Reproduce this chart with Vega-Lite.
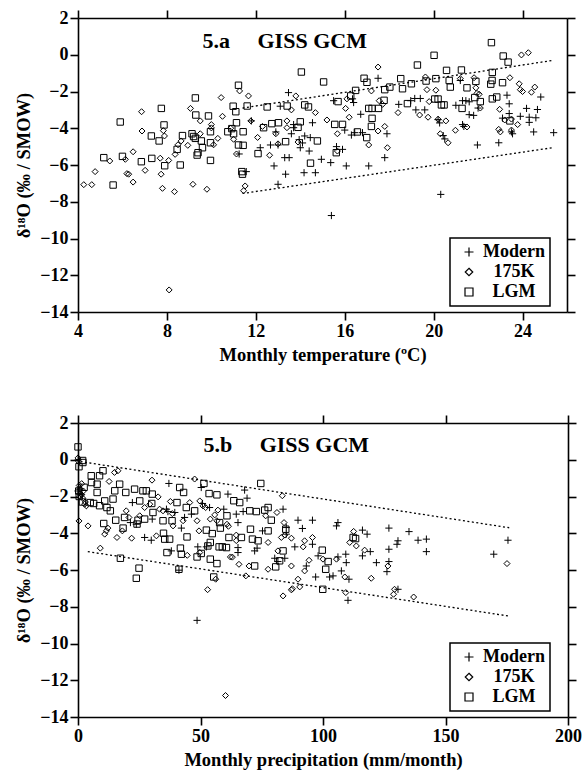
{
  "$schema": "https://vega.github.io/schema/vega-lite/v6.json",
  "background": "white",
  "padding": {"left": 14, "top": 9, "right": 5, "bottom": 3},
  "spacing": 50,
  "config": {
    "view": {"stroke": null},
    "font": "Liberation Serif",
    "axis": {"labelFont": "Liberation Serif", "labelFontWeight": "bold", "labelFontSize": 18, "labelColor": "black", "titleFont": "Liberation Serif", "titleFontWeight": "bold", "titleFontSize": 18.5, "titleColor": "black", "domainColor": "black", "domainWidth": 1.6, "tickColor": "black", "tickWidth": 1.6, "tickSize": 8, "grid": false, "labelPadding": 2, "labelFlush": false, "labelOverlap": false},
    "axisX": {"titlePadding": 5},
    "legend": {"orient": "none", "legendX": 372, "legendY": 220, "strokeColor": "black", "strokeWidth": 1.5, "fillColor": "white", "padding": 5, "labelFont": "Liberation Serif", "labelFontSize": 18, "labelFontWeight": "bold", "labelColor": "black", "labelAlign": "center", "labelOffset": 36, "symbolOffset": 5, "symbolSize": 100, "symbolStrokeColor": "black", "symbolStrokeWidth": 1.2, "symbolFillColor": "transparent", "rowPadding": 2, "title": null}
  },
  "datasets": {
    "temp": [
      {"series":"LGM","temp":5.58,"d18O":-7.09},{"series":"LGM","temp":5.16,"d18O":-5.6},{"series":"LGM","temp":5.9,"d18O":-3.66},{"series":"LGM","temp":6.0,"d18O":-5.53},{"series":"LGM","temp":6.85,"d18O":-5.82},{"series":"LGM","temp":7.3,"d18O":-4.42},{"series":"LGM","temp":7.32,"d18O":-5.64},{"series":"LGM","temp":7.65,"d18O":-4.69},{"series":"LGM","temp":7.75,"d18O":-2.92},{"series":"LGM","temp":7.87,"d18O":-3.82},{"series":"LGM","temp":7.9,"d18O":-6.04},{"series":"LGM","temp":8.46,"d18O":-5.15},{"series":"LGM","temp":8.6,"d18O":-6.0},{"series":"LGM","temp":8.7,"d18O":-4.4},{"series":"LGM","temp":9.13,"d18O":-4.3},{"series":"LGM","temp":9.2,"d18O":-4.45},{"series":"LGM","temp":9.28,"d18O":-4.55},{"series":"LGM","temp":9.28,"d18O":-2.35},{"series":"LGM","temp":9.3,"d18O":-3.28},{"series":"LGM","temp":9.36,"d18O":-5.46},{"series":"LGM","temp":9.4,"d18O":-5.33},{"series":"LGM","temp":9.6,"d18O":-5.06},{"series":"LGM","temp":9.55,"d18O":-4.69},{"series":"LGM","temp":9.87,"d18O":-3.33},{"series":"LGM","temp":9.96,"d18O":-4.19},{"series":"LGM","temp":9.96,"d18O":-4.79},{"series":"LGM","temp":9.96,"d18O":-5.75},{"series":"LGM","temp":10.74,"d18O":-4.19},{"series":"LGM","temp":10.92,"d18O":-4.02},{"series":"LGM","temp":11.0,"d18O":-4.3},{"series":"LGM","temp":11.22,"d18O":-1.66},{"series":"LGM","temp":10.98,"d18O":-2.8},{"series":"LGM","temp":11.1,"d18O":-3.1},{"series":"LGM","temp":11.13,"d18O":-3.7},{"series":"LGM","temp":11.43,"d18O":-4.19},{"series":"LGM","temp":11.22,"d18O":-4.91},{"series":"LGM","temp":11.43,"d18O":-4.93},{"series":"LGM","temp":11.61,"d18O":-2.79},{"series":"LGM","temp":11.37,"d18O":-6.36},{"series":"LGM","temp":11.4,"d18O":-6.5},{"series":"LGM","temp":12.1,"d18O":-5.38},{"series":"LGM","temp":12.35,"d18O":-3.97},{"series":"LGM","temp":12.51,"d18O":-2.84},{"series":"LGM","temp":12.72,"d18O":-3.75},{"series":"LGM","temp":13.02,"d18O":-3.7},{"series":"LGM","temp":13.34,"d18O":-4.73},{"series":"LGM","temp":13.41,"d18O":-2.79},{"series":"LGM","temp":14.05,"d18O":-0.94},{"series":"LGM","temp":14.0,"d18O":-3.65},{"series":"LGM","temp":13.9,"d18O":-3.95},{"series":"LGM","temp":15.05,"d18O":-1.48},{"series":"LGM","temp":14.2,"d18O":-2.73},{"series":"LGM","temp":14.37,"d18O":-2.84},{"series":"LGM","temp":14.77,"d18O":-4.69},{"series":"LGM","temp":14.46,"d18O":-5.9},{"series":"LGM","temp":15.55,"d18O":-3.79},{"series":"LGM","temp":15.9,"d18O":-3.79},{"series":"LGM","temp":15.62,"d18O":-5.33},{"series":"LGM","temp":15.7,"d18O":-2.55},{"series":"LGM","temp":16.27,"d18O":-2.24},{"series":"LGM","temp":16.49,"d18O":-1.94},{"series":"LGM","temp":16.57,"d18O":-4.2},{"series":"LGM","temp":16.87,"d18O":-1.28},{"series":"LGM","temp":17.0,"d18O":-1.5},{"series":"LGM","temp":17.08,"d18O":-2.92},{"series":"LGM","temp":17.23,"d18O":-2.92},{"series":"LGM","temp":17.52,"d18O":-2.92},{"series":"LGM","temp":16.99,"d18O":-4.51},{"series":"LGM","temp":17.23,"d18O":-3.46},{"series":"LGM","temp":17.2,"d18O":-3.9},{"series":"LGM","temp":17.77,"d18O":-2.48},{"series":"LGM","temp":17.8,"d18O":-1.9},{"series":"LGM","temp":18.03,"d18O":-1.76},{"series":"LGM","temp":18.52,"d18O":-1.3},{"series":"LGM","temp":18.6,"d18O":-1.85},{"series":"LGM","temp":18.82,"d18O":-2.66},{"series":"LGM","temp":19.0,"d18O":-1.58},{"series":"LGM","temp":19.27,"d18O":-0.56},{"series":"LGM","temp":19.66,"d18O":-1.43},{"series":"LGM","temp":20.02,"d18O":-0.03},{"series":"LGM","temp":20.1,"d18O":-1.3},{"series":"LGM","temp":20.05,"d18O":-2.41},{"series":"LGM","temp":20.2,"d18O":-2.41},{"series":"LGM","temp":20.35,"d18O":-2.73},{"series":"LGM","temp":20.47,"d18O":-2.73},{"series":"LGM","temp":20.58,"d18O":-0.85},{"series":"LGM","temp":20.7,"d18O":-1.4},{"series":"LGM","temp":20.75,"d18O":-1.76},{"series":"LGM","temp":21.25,"d18O":-0.83},{"series":"LGM","temp":21.28,"d18O":-2.92},{"series":"LGM","temp":21.5,"d18O":-1.8},{"series":"LGM","temp":21.85,"d18O":-2.33},{"series":"LGM","temp":21.9,"d18O":-1.45},{"series":"LGM","temp":22.1,"d18O":-2.55},{"series":"LGM","temp":22.57,"d18O":-1.6},{"series":"LGM","temp":22.6,"d18O":0.66},{"series":"LGM","temp":22.64,"d18O":-0.96},{"series":"LGM","temp":22.63,"d18O":-1.4},{"series":"LGM","temp":23.1,"d18O":-1.52},{"series":"LGM","temp":22.64,"d18O":-2.4},{"series":"LGM","temp":22.84,"d18O":-2.3},{"series":"LGM","temp":23.13,"d18O":-0.07},{"series":"LGM","temp":23.35,"d18O":-0.4},{"series":"LGM","temp":23.43,"d18O":-3.6},
      {"series":"175K","temp":4.26,"d18O":-7.07},{"series":"175K","temp":4.62,"d18O":-7.07},{"series":"175K","temp":4.77,"d18O":-6.36},{"series":"175K","temp":5.43,"d18O":-5.78},{"series":"175K","temp":6.13,"d18O":-5.69},{"series":"175K","temp":6.2,"d18O":-6.47},{"series":"175K","temp":6.28,"d18O":-6.5},{"series":"175K","temp":6.48,"d18O":-6.93},{"series":"175K","temp":6.48,"d18O":-5.28},{"series":"175K","temp":6.86,"d18O":-3.1},{"series":"175K","temp":6.88,"d18O":-4.15},{"series":"175K","temp":7.02,"d18O":-6.29},{"series":"175K","temp":7.7,"d18O":-5.63},{"series":"175K","temp":7.74,"d18O":-6.5},{"series":"175K","temp":7.8,"d18O":-7.27},{"series":"175K","temp":7.84,"d18O":-4.13},{"series":"175K","temp":7.89,"d18O":-4.42},{"series":"175K","temp":8.08,"d18O":-5.75},{"series":"175K","temp":8.34,"d18O":-7.45},{"series":"175K","temp":8.37,"d18O":-5.42},{"series":"175K","temp":8.5,"d18O":-4.9},{"series":"175K","temp":8.64,"d18O":-4.69},{"series":"175K","temp":8.94,"d18O":-4.93},{"series":"175K","temp":9.06,"d18O":-2.92},{"series":"175K","temp":9.17,"d18O":-7.05},{"series":"175K","temp":9.5,"d18O":-3.6},{"series":"175K","temp":9.5,"d18O":-4.3},{"series":"175K","temp":9.8,"d18O":-7.32},{"series":"175K","temp":10.0,"d18O":-3.8},{"series":"175K","temp":10.0,"d18O":-3.98},{"series":"175K","temp":10.1,"d18O":-4.9},{"series":"175K","temp":10.29,"d18O":-4.55},{"series":"175K","temp":10.44,"d18O":-2.33},{"series":"175K","temp":10.5,"d18O":-3.35},{"series":"175K","temp":10.87,"d18O":-4.0},{"series":"175K","temp":11.0,"d18O":-4.6},{"series":"175K","temp":11.13,"d18O":-5.4},{"series":"175K","temp":11.27,"d18O":-1.97},{"series":"175K","temp":11.67,"d18O":-2.24},{"series":"175K","temp":11.52,"d18O":-7.14},{"series":"175K","temp":11.45,"d18O":-7.4},{"series":"175K","temp":11.78,"d18O":-3.6},{"series":"175K","temp":12.08,"d18O":-4.5},{"series":"175K","temp":12.3,"d18O":-3.9},{"series":"175K","temp":12.62,"d18O":-5.47},{"series":"175K","temp":12.9,"d18O":-4.3},{"series":"175K","temp":13.0,"d18O":-4.85},{"series":"175K","temp":13.4,"d18O":-3.6},{"series":"175K","temp":13.4,"d18O":-3.97},{"series":"175K","temp":13.6,"d18O":-3.0},{"series":"175K","temp":13.8,"d18O":-2.24},{"series":"175K","temp":13.9,"d18O":-4.75},{"series":"175K","temp":8.1,"d18O":-12.8},{"series":"175K","temp":14.68,"d18O":-3.15},{"series":"175K","temp":15.2,"d18O":-3.55},{"series":"175K","temp":15.67,"d18O":-4.3},{"series":"175K","temp":15.67,"d18O":-5.24},{"series":"175K","temp":16.04,"d18O":-2.92},{"series":"175K","temp":16.1,"d18O":-2.4},{"series":"175K","temp":16.2,"d18O":-3.4},{"series":"175K","temp":17.08,"d18O":-4.91},{"series":"175K","temp":17.2,"d18O":-1.97},{"series":"175K","temp":17.5,"d18O":-4.15},{"series":"175K","temp":17.5,"d18O":-0.67},{"series":"175K","temp":17.55,"d18O":-2.5},{"series":"175K","temp":17.7,"d18O":-2.7},{"series":"175K","temp":17.8,"d18O":-3.9},{"series":"175K","temp":17.92,"d18O":-5.06},{"series":"175K","temp":18.4,"d18O":-3.15},{"series":"175K","temp":19.37,"d18O":-3.28},{"series":"175K","temp":19.63,"d18O":-1.21},{"series":"175K","temp":19.7,"d18O":-1.9},{"series":"175K","temp":19.75,"d18O":-3.4},{"series":"175K","temp":19.8,"d18O":-2.55},{"series":"175K","temp":20.1,"d18O":-1.93},{"series":"175K","temp":20.2,"d18O":-3.51},{"series":"175K","temp":20.3,"d18O":-4.3},{"series":"175K","temp":20.55,"d18O":-3.6},{"series":"175K","temp":20.65,"d18O":-4.79},{"series":"175K","temp":20.98,"d18O":-4.11},{"series":"175K","temp":21.2,"d18O":-1.3},{"series":"175K","temp":21.5,"d18O":-3.93},{"series":"175K","temp":21.82,"d18O":-1.25},{"series":"175K","temp":21.9,"d18O":-1.8},{"series":"175K","temp":21.95,"d18O":-2.1},{"series":"175K","temp":22.05,"d18O":-2.15},{"series":"175K","temp":22.1,"d18O":-2.9},{"series":"175K","temp":22.93,"d18O":-4.06},{"series":"175K","temp":22.97,"d18O":-2.97},{"series":"175K","temp":23.0,"d18O":-4.2},{"series":"175K","temp":23.2,"d18O":-3.55},{"series":"175K","temp":23.43,"d18O":-1.25},{"series":"175K","temp":23.5,"d18O":-3.5},{"series":"175K","temp":23.5,"d18O":-4.1},{"series":"175K","temp":23.78,"d18O":-3.8},{"series":"175K","temp":23.85,"d18O":-1.58},{"series":"175K","temp":23.9,"d18O":-1.9},{"series":"175K","temp":24.0,"d18O":-2.0},{"series":"175K","temp":23.95,"d18O":-0.01},{"series":"175K","temp":24.26,"d18O":0.11},{"series":"175K","temp":24.4,"d18O":-2.04},{"series":"175K","temp":24.55,"d18O":-1.76},
      {"series":"Modern","temp":11.25,"d18O":-5.4},{"series":"Modern","temp":11.57,"d18O":-6.36},{"series":"Modern","temp":11.8,"d18O":-3.6},{"series":"Modern","temp":12.2,"d18O":-5.06},{"series":"Modern","temp":12.66,"d18O":-4.91},{"series":"Modern","temp":13.0,"d18O":-4.91},{"series":"Modern","temp":12.82,"d18O":-6.05},{"series":"Modern","temp":13.0,"d18O":-7.05},{"series":"Modern","temp":13.34,"d18O":-6.5},{"series":"Modern","temp":13.3,"d18O":-5.6},{"series":"Modern","temp":13.5,"d18O":-5.6},{"series":"Modern","temp":13.47,"d18O":-2.06},{"series":"Modern","temp":13.6,"d18O":-4.3},{"series":"Modern","temp":13.7,"d18O":-3.97},{"series":"Modern","temp":13.95,"d18O":-4.62},{"series":"Modern","temp":12.9,"d18O":-4.2},{"series":"Modern","temp":13.1,"d18O":-2.8},{"series":"Modern","temp":13.7,"d18O":-3.8},{"series":"Modern","temp":14.55,"d18O":-3.7},{"series":"Modern","temp":14.1,"d18O":-4.8},{"series":"Modern","temp":14.0,"d18O":-5.06},{"series":"Modern","temp":14.4,"d18O":-5.24},{"series":"Modern","temp":14.2,"d18O":-4.42},{"series":"Modern","temp":14.45,"d18O":-4.51},{"series":"Modern","temp":14.17,"d18O":-6.42},{"series":"Modern","temp":14.68,"d18O":-6.42},{"series":"Modern","temp":14.95,"d18O":-5.69},{"series":"Modern","temp":15.37,"d18O":-5.87},{"series":"Modern","temp":15.5,"d18O":-2.5},{"series":"Modern","temp":15.63,"d18O":-5.0},{"series":"Modern","temp":15.9,"d18O":-5.15},{"series":"Modern","temp":16.0,"d18O":-4.1},{"series":"Modern","temp":16.07,"d18O":-6.05},{"series":"Modern","temp":16.3,"d18O":-4.37},{"series":"Modern","temp":16.35,"d18O":-2.4},{"series":"Modern","temp":16.4,"d18O":-2.6},{"series":"Modern","temp":16.45,"d18O":-4.24},{"series":"Modern","temp":16.72,"d18O":-3.24},{"series":"Modern","temp":16.8,"d18O":-4.24},{"series":"Modern","temp":17.08,"d18O":-6.05},{"series":"Modern","temp":17.5,"d18O":-1.28},{"series":"Modern","temp":17.8,"d18O":-5.6},{"series":"Modern","temp":17.9,"d18O":-4.3},{"series":"Modern","temp":18.43,"d18O":-2.7},{"series":"Modern","temp":18.97,"d18O":-2.5},{"series":"Modern","temp":19.15,"d18O":-2.38},{"series":"Modern","temp":19.4,"d18O":-2.38},{"series":"Modern","temp":19.2,"d18O":-3.0},{"series":"Modern","temp":19.6,"d18O":-3.0},{"series":"Modern","temp":20.2,"d18O":-3.53},{"series":"Modern","temp":20.27,"d18O":-3.71},{"series":"Modern","temp":20.43,"d18O":-4.4},{"series":"Modern","temp":20.5,"d18O":-4.58},{"series":"Modern","temp":20.32,"d18O":-7.6},{"series":"Modern","temp":21.0,"d18O":-2.75},{"series":"Modern","temp":21.2,"d18O":-1.4},{"series":"Modern","temp":21.3,"d18O":-2.5},{"series":"Modern","temp":21.45,"d18O":-2.5},{"series":"Modern","temp":21.6,"d18O":-2.56},{"series":"Modern","temp":21.6,"d18O":-3.26},{"series":"Modern","temp":21.8,"d18O":-3.3},{"series":"Modern","temp":21.3,"d18O":-3.8},{"series":"Modern","temp":21.36,"d18O":-3.9},{"series":"Modern","temp":21.97,"d18O":-4.91},{"series":"Modern","temp":22.0,"d18O":-2.9},{"series":"Modern","temp":22.93,"d18O":-4.79},{"series":"Modern","temp":23.1,"d18O":-3.45},{"series":"Modern","temp":23.3,"d18O":-2.2},{"series":"Modern","temp":23.4,"d18O":-2.67},{"series":"Modern","temp":23.4,"d18O":-3.2},{"series":"Modern","temp":23.5,"d18O":-4.2},{"series":"Modern","temp":23.55,"d18O":-4.3},{"series":"Modern","temp":23.9,"d18O":-3.35},{"series":"Modern","temp":24.18,"d18O":-2.92},{"series":"Modern","temp":24.3,"d18O":-3.4},{"series":"Modern","temp":24.3,"d18O":-3.68},{"series":"Modern","temp":24.5,"d18O":-4.2},{"series":"Modern","temp":24.67,"d18O":-2.98},{"series":"Modern","temp":24.6,"d18O":-3.43},{"series":"Modern","temp":24.82,"d18O":-2.3},{"series":"Modern","temp":25.4,"d18O":-4.24},{"series":"Modern","temp":15.4,"d18O":-8.75}
    ],
    "precip": [
      {"series":"LGM","precip":0,"d18O":0.7},{"series":"LGM","precip":0.4,"d18O":-0.38},{"series":"LGM","precip":1.9,"d18O":-0.04},{"series":"LGM","precip":2.0,"d18O":-0.15},{"series":"LGM","precip":5.4,"d18O":-0.87},{"series":"LGM","precip":5.5,"d18O":-1.24},{"series":"LGM","precip":7.8,"d18O":-1.33},{"series":"LGM","precip":8.8,"d18O":-0.87},{"series":"LGM","precip":10.2,"d18O":-0.6},{"series":"LGM","precip":7.8,"d18O":-1.78},{"series":"LGM","precip":10.9,"d18O":-2.24},{"series":"LGM","precip":14.3,"d18O":-2.14},{"series":"LGM","precip":15.0,"d18O":-1.69},{"series":"LGM","precip":17.0,"d18O":-1.33},{"series":"LGM","precip":6.4,"d18O":-2.38},{"series":"LGM","precip":5.0,"d18O":-2.33},{"series":"LGM","precip":8.8,"d18O":-2.5},{"series":"LGM","precip":10.5,"d18O":-3.47},{"series":"LGM","precip":11.8,"d18O":-2.6},{"series":"LGM","precip":13.2,"d18O":-2.78},{"series":"LGM","precip":15.4,"d18O":-3.29},{"series":"LGM","precip":19.0,"d18O":-3.14},{"series":"LGM","precip":18.4,"d18O":-3.72},{"series":"LGM","precip":19.5,"d18O":-1.78},{"series":"LGM","precip":23.1,"d18O":-1.6},{"series":"LGM","precip":25.2,"d18O":-2.24},{"series":"LGM","precip":24.5,"d18O":-3.29},{"series":"LGM","precip":24.1,"d18O":-3.5},{"series":"LGM","precip":24.9,"d18O":-5.9},{"series":"LGM","precip":23.8,"d18O":-6.45},{"series":"LGM","precip":26.5,"d18O":-1.69},{"series":"LGM","precip":27.9,"d18O":-1.69},{"series":"LGM","precip":27.2,"d18O":-3.23},{"series":"LGM","precip":30.3,"d18O":-1.87},{"series":"LGM","precip":30.1,"d18O":-2.38},{"series":"LGM","precip":30.6,"d18O":-2.87},{"series":"LGM","precip":17.3,"d18O":-5.36},{"series":"LGM","precip":34.9,"d18O":-4.0},{"series":"LGM","precip":35.4,"d18O":-4.32},{"series":"LGM","precip":37.4,"d18O":-4.32},{"series":"LGM","precip":36.3,"d18O":-5.05},{"series":"LGM","precip":34.7,"d18O":-3.32},{"series":"LGM","precip":38.4,"d18O":-3.32},{"series":"LGM","precip":41.5,"d18O":-1.51},{"series":"LGM","precip":43.1,"d18O":-1.78},{"series":"LGM","precip":40.4,"d18O":-2.33},{"series":"LGM","precip":41.8,"d18O":-4.81},{"series":"LGM","precip":42.2,"d18O":-5.14},{"series":"LGM","precip":41.2,"d18O":-5.96},{"series":"LGM","precip":44.5,"d18O":-4.2},{"series":"LGM","precip":44.2,"d18O":-2.6},{"series":"LGM","precip":47.6,"d18O":-2.78},{"series":"LGM","precip":48.6,"d18O":-5.29},{"series":"LGM","precip":50.3,"d18O":-5.1},{"series":"LGM","precip":51.4,"d18O":-1.29},{"series":"LGM","precip":53.5,"d18O":-1.84},{"series":"LGM","precip":56.7,"d18O":-1.91},{"series":"LGM","precip":52.4,"d18O":-3.83},{"series":"LGM","precip":53.0,"d18O":-4.69},{"series":"LGM","precip":54.0,"d18O":-4.5},{"series":"LGM","precip":54.8,"d18O":-4.02},{"series":"LGM","precip":54.0,"d18O":-5.41},{"series":"LGM","precip":56.7,"d18O":-5.65},{"series":"LGM","precip":55.4,"d18O":-6.38},{"series":"LGM","precip":57.6,"d18O":-4.74},{"series":"LGM","precip":58.9,"d18O":-4.74},{"series":"LGM","precip":60.6,"d18O":-4.78},{"series":"LGM","precip":61.6,"d18O":-4.23},{"series":"LGM","precip":58.1,"d18O":-3.72},{"series":"LGM","precip":57.8,"d18O":-3.42},{"series":"LGM","precip":60.8,"d18O":-3.05},{"series":"LGM","precip":0.3,"d18O":-1.7},{"series":"LGM","precip":0.5,"d18O":-2.0},{"series":"LGM","precip":2.5,"d18O":-1.5},{"series":"LGM","precip":1.8,"d18O":-2.3},{"series":"LGM","precip":74.6,"d18O":-1.29},{"series":"LGM","precip":63.6,"d18O":-2.23},{"series":"LGM","precip":66.0,"d18O":-2.33},{"series":"LGM","precip":70.1,"d18O":-2.78},{"series":"LGM","precip":72.8,"d18O":-2.82},{"series":"LGM","precip":76.2,"d18O":-2.74},{"series":"LGM","precip":77.6,"d18O":-2.6},{"series":"LGM","precip":78.9,"d18O":-3.29},{"series":"LGM","precip":70.4,"d18O":-3.78},{"series":"LGM","precip":66.7,"d18O":-4.23},{"series":"LGM","precip":71.2,"d18O":-4.32},{"series":"LGM","precip":73.5,"d18O":-4.41},{"series":"LGM","precip":77.6,"d18O":-3.87},{"series":"LGM","precip":83.7,"d18O":-4.96},{"series":"LGM","precip":84.8,"d18O":-3.78},{"series":"LGM","precip":82.3,"d18O":-5.5},{"series":"LGM","precip":80.7,"d18O":-5.83},{"series":"LGM","precip":72.1,"d18O":-5.78},{"series":"LGM","precip":99.7,"d18O":-4.92},{"series":"LGM","precip":102.1,"d18O":-5.54},{"series":"LGM","precip":101.1,"d18O":-5.96},{"series":"LGM","precip":99.9,"d18O":-7.05},{"series":"LGM","precip":112.3,"d18O":-4.23},{"series":"LGM","precip":113.3,"d18O":-4.29},
      {"series":"175K","precip":0,"d18O":0.1},{"series":"175K","precip":0.3,"d18O":-0.1},{"series":"175K","precip":0.5,"d18O":-1.4},{"series":"175K","precip":1.0,"d18O":-1.6},{"series":"175K","precip":1.5,"d18O":-1.9},{"series":"175K","precip":2.0,"d18O":-2.1},{"series":"175K","precip":0.8,"d18O":-2.0},{"series":"175K","precip":3.0,"d18O":-2.3},{"series":"175K","precip":1.5,"d18O":-1.3},{"series":"175K","precip":2.2,"d18O":-1.7},{"series":"175K","precip":0.4,"d18O":-3.33},{"series":"175K","precip":4.1,"d18O":-3.6},{"series":"175K","precip":3.4,"d18O":-2.51},{"series":"175K","precip":2.7,"d18O":-2.42},{"series":"175K","precip":9.1,"d18O":-4.81},{"series":"175K","precip":10.9,"d18O":-4.05},{"series":"175K","precip":11.6,"d18O":-3.87},{"series":"175K","precip":12.2,"d18O":-3.72},{"series":"175K","precip":15.9,"d18O":-4.23},{"series":"175K","precip":12.7,"d18O":-1.18},{"series":"175K","precip":14.9,"d18O":-0.69},{"series":"175K","precip":16.3,"d18O":-0.6},{"series":"175K","precip":21.9,"d18O":-4.27},{"series":"175K","precip":18.1,"d18O":-3.87},{"series":"175K","precip":20.8,"d18O":-3.14},{"series":"175K","precip":19.7,"d18O":-2.78},{"series":"175K","precip":25.2,"d18O":-3.05},{"series":"175K","precip":27.2,"d18O":-2.6},{"series":"175K","precip":29.3,"d18O":-2.42},{"series":"175K","precip":30.2,"d18O":-1.11},{"series":"175K","precip":32.0,"d18O":-4.14},{"series":"175K","precip":32.7,"d18O":-2.02},{"series":"175K","precip":33.3,"d18O":-2.69},{"series":"175K","precip":34.7,"d18O":-2.78},{"series":"175K","precip":38.8,"d18O":-3.6},{"series":"175K","precip":37.7,"d18O":-2.27},{"series":"175K","precip":38.5,"d18O":-2.93},{"series":"175K","precip":42.9,"d18O":-3.32},{"series":"175K","precip":44.6,"d18O":-5.2},{"series":"175K","precip":45.6,"d18O":-2.33},{"series":"175K","precip":49.7,"d18O":-2.24},{"series":"175K","precip":47.6,"d18O":-1.05},{"series":"175K","precip":48.6,"d18O":-3.32},{"series":"175K","precip":49.4,"d18O":-3.87},{"series":"175K","precip":51.0,"d18O":-2.51},{"series":"175K","precip":52.1,"d18O":-2.6},{"series":"175K","precip":54.0,"d18O":-3.23},{"series":"175K","precip":55.8,"d18O":-3.0},{"series":"175K","precip":56.7,"d18O":-3.32},{"series":"175K","precip":57.1,"d18O":-2.74},{"series":"175K","precip":60.8,"d18O":-3.51},{"series":"175K","precip":61.4,"d18O":-3.62},{"series":"175K","precip":52.9,"d18O":-7.07},{"series":"175K","precip":56.2,"d18O":-6.5},{"series":"175K","precip":49.7,"d18O":-5.05},{"series":"175K","precip":62.2,"d18O":-5.29},{"series":"175K","precip":60.2,"d18O":-12.83},{"series":"175K","precip":83.4,"d18O":-1.96},{"series":"175K","precip":81.2,"d18O":-2.87},{"series":"175K","precip":76.6,"d18O":-3.05},{"series":"175K","precip":84.1,"d18O":-3.42},{"series":"175K","precip":84.4,"d18O":-4.1},{"series":"175K","precip":83.0,"d18O":-4.23},{"series":"175K","precip":87.1,"d18O":-4.27},{"series":"175K","precip":77.6,"d18O":-4.5},{"series":"175K","precip":81.6,"d18O":-4.96},{"series":"175K","precip":65.7,"d18O":-5.69},{"series":"175K","precip":69.8,"d18O":-5.78},{"series":"175K","precip":77.6,"d18O":-5.96},{"series":"175K","precip":63.0,"d18O":-5.3},{"series":"175K","precip":68.5,"d18O":-6.32},{"series":"175K","precip":87.1,"d18O":-5.78},{"series":"175K","precip":83.7,"d18O":-7.41},{"series":"175K","precip":87.1,"d18O":-7.08},{"series":"175K","precip":87.5,"d18O":-7.02},{"series":"175K","precip":90.5,"d18O":-6.92},{"series":"175K","precip":89.8,"d18O":-6.5},{"series":"175K","precip":92.5,"d18O":-6.05},{"series":"175K","precip":94.3,"d18O":-5.47},{"series":"175K","precip":91.9,"d18O":-4.74},{"series":"175K","precip":92.5,"d18O":-4.41},{"series":"175K","precip":95.7,"d18O":-4.23},{"series":"175K","precip":100,"d18O":-5.41},{"series":"175K","precip":105.5,"d18O":-5.41},{"series":"175K","precip":108.9,"d18O":-6.38},{"series":"175K","precip":109.3,"d18O":-7.23},{"series":"175K","precip":112.5,"d18O":-3.9},{"series":"175K","precip":110.9,"d18O":-4.5},{"series":"175K","precip":113.6,"d18O":-4.69},{"series":"175K","precip":117.0,"d18O":-4.92},{"series":"175K","precip":119.7,"d18O":-6.45},{"series":"175K","precip":64.6,"d18O":-4.1},{"series":"175K","precip":64.6,"d18O":-4.4},{"series":"175K","precip":126.5,"d18O":-5.78},{"series":"175K","precip":129.2,"d18O":-7.05},{"series":"175K","precip":128.8,"d18O":-7.32},{"series":"175K","precip":137.0,"d18O":-7.47},{"series":"175K","precip":175.1,"d18O":-5.65},
      {"series":"Modern","precip":0.1,"d18O":0.0},{"series":"Modern","precip":0.0,"d18O":-1.7},{"series":"Modern","precip":0.5,"d18O":-1.6},{"series":"Modern","precip":1.2,"d18O":-1.9},{"series":"Modern","precip":37.1,"d18O":-1.29},{"series":"Modern","precip":22.2,"d18O":-2.33},{"series":"Modern","precip":23.8,"d18O":-3.51},{"series":"Modern","precip":21.4,"d18O":-3.42},{"series":"Modern","precip":27.2,"d18O":-4.23},{"series":"Modern","precip":29.9,"d18O":-4.38},{"series":"Modern","precip":30.3,"d18O":-3.23},{"series":"Modern","precip":36.1,"d18O":-2.69},{"series":"Modern","precip":36.7,"d18O":-2.82},{"series":"Modern","precip":39.5,"d18O":-2.87},{"series":"Modern","precip":42.2,"d18O":-3.72},{"series":"Modern","precip":43.5,"d18O":-3.14},{"series":"Modern","precip":46.3,"d18O":-2.96},{"series":"Modern","precip":50.3,"d18O":-1.51},{"series":"Modern","precip":53.7,"d18O":-2.6},{"series":"Modern","precip":50.8,"d18O":-2.38},{"series":"Modern","precip":48.9,"d18O":-4.74},{"series":"Modern","precip":38.1,"d18O":-4.96},{"series":"Modern","precip":52.4,"d18O":-4.74},{"series":"Modern","precip":41.2,"d18O":-6.01},{"series":"Modern","precip":59.5,"d18O":-2.69},{"series":"Modern","precip":61.2,"d18O":-1.87},{"series":"Modern","precip":48.6,"d18O":-8.74},{"series":"Modern","precip":68.0,"d18O":-1.65},{"series":"Modern","precip":69.0,"d18O":-2.09},{"series":"Modern","precip":67.4,"d18O":-2.82},{"series":"Modern","precip":64.6,"d18O":-2.96},{"series":"Modern","precip":65.3,"d18O":-3.42},{"series":"Modern","precip":83.7,"d18O":-2.69},{"series":"Modern","precip":89.8,"d18O":-3.29},{"series":"Modern","precip":95.7,"d18O":-3.29},{"series":"Modern","precip":91.6,"d18O":-3.74},{"series":"Modern","precip":106.1,"d18O":-3.42},{"series":"Modern","precip":105.5,"d18O":-3.6},{"series":"Modern","precip":75.3,"d18O":-3.87},{"series":"Modern","precip":85.0,"d18O":-4.05},{"series":"Modern","precip":85.0,"d18O":-3.69},{"series":"Modern","precip":88.5,"d18O":-4.74},{"series":"Modern","precip":95.7,"d18O":-4.6},{"series":"Modern","precip":73.1,"d18O":-4.81},{"series":"Modern","precip":72.1,"d18O":-4.96},{"series":"Modern","precip":65.3,"d18O":-4.78},{"series":"Modern","precip":65.3,"d18O":-5.05},{"series":"Modern","precip":80.3,"d18O":-5.36},{"series":"Modern","precip":84.4,"d18O":-5.36},{"series":"Modern","precip":98.0,"d18O":-5.23},{"series":"Modern","precip":106.1,"d18O":-5.29},{"series":"Modern","precip":109.3,"d18O":-5.14},{"series":"Modern","precip":109.5,"d18O":-5.6},{"series":"Modern","precip":116.1,"d18O":-3.83},{"series":"Modern","precip":118.0,"d18O":-4.05},{"series":"Modern","precip":116.1,"d18O":-5.23},{"series":"Modern","precip":119.3,"d18O":-5.0},{"series":"Modern","precip":121.8,"d18O":-5.6},{"series":"Modern","precip":97.0,"d18O":-6.38},{"series":"Modern","precip":102.7,"d18O":-6.38},{"series":"Modern","precip":104.1,"d18O":-6.32},{"series":"Modern","precip":107.5,"d18O":-6.05},{"series":"Modern","precip":110.6,"d18O":-6.5},{"series":"Modern","precip":110.2,"d18O":-7.65},{"series":"Modern","precip":93.2,"d18O":-5.78},{"series":"Modern","precip":81.6,"d18O":-5.54},{"series":"Modern","precip":126.9,"d18O":-3.72},{"series":"Modern","precip":135.1,"d18O":-3.91},{"series":"Modern","precip":130.6,"d18O":-4.41},{"series":"Modern","precip":130.2,"d18O":-4.6},{"series":"Modern","precip":138.8,"d18O":-4.38},{"series":"Modern","precip":142.2,"d18O":-4.32},{"series":"Modern","precip":126.9,"d18O":-4.87},{"series":"Modern","precip":142.2,"d18O":-5.0},{"series":"Modern","precip":126.9,"d18O":-5.54},{"series":"Modern","precip":126.1,"d18O":-6.09},{"series":"Modern","precip":130.6,"d18O":-7.05},{"series":"Modern","precip":169.7,"d18O":-5.14},{"series":"Modern","precip":175.5,"d18O":-4.38}
    ],
    "tlines": [
      {"line":"upper","temp":11.4,"d18O":-2.9},{"line":"upper","temp":25.4,"d18O":-0.3},
      {"line":"lower","temp":11.4,"d18O":-7.55},{"line":"lower","temp":25.4,"d18O":-5.05}
    ],
    "plines": [
      {"line":"upper","precip":1,"d18O":-0.1},{"line":"upper","precip":176,"d18O":-3.7},
      {"line":"lower","precip":4,"d18O":-5.0},{"line":"lower","precip":175.5,"d18O":-8.5}
    ],
    "tlabel": [{"label":"5.a\u00a0\u00a0\u00a0\u00a0\u00a0GISS GCM","temp":13.3,"d18O":0.37}],
    "plabel": [{"label":"5.b\u00a0\u00a0\u00a0\u00a0\u00a0GISS GCM","precip":85,"d18O":0.4}]
  },
  "vconcat": [
    {
      "width": 489,
      "height": 294,
      "resolve": {"axis": {"x": "independent", "y": "independent"}},
      "layer": [
        {
          "data": {"name": "temp"},
          "mark": {"type": "point", "filled": false, "stroke": "black", "strokeWidth": 1, "size": 64, "opacity": 1},
          "encoding": {
            "x": {"field": "temp", "type": "quantitative", "scale": {"domain": [4, 26], "nice": false, "zero": false}, "axis": {"values": [4, 8, 12, 16, 20, 24], "title": "Monthly temperature (ºC)"}},
            "y": {"field": "d18O", "type": "quantitative", "scale": {"domain": [-14, 2], "nice": false, "zero": false}, "axis": {"values": [-14, -12, -10, -8, -6, -4, -2, 0, 2], "title": "δ¹⁸O (‰ / SMOW)", "titlePadding": 6}},
            "shape": {"field": "series", "type": "nominal", "scale": {"domain": ["Modern", "175K", "LGM"], "range": ["M-0.9,0H0.9M0,-0.9V0.9", "M0,-0.75L0.75,0L0,0.75L-0.75,0Z", "M-0.8,-0.8H0.8V0.8H-0.8Z"]}, "legend": {"title": null}}
          }
        },
        {
          "data": {"name": "tlines"},
          "mark": {"type": "line", "stroke": "black", "strokeWidth": 1.3, "strokeDash": [2, 2.5]},
          "encoding": {
            "x": {"field": "temp", "type": "quantitative", "scale": {"domain": [4, 26], "nice": false, "zero": false}, "axis": null},
            "y": {"field": "d18O", "type": "quantitative", "scale": {"domain": [-14, 2], "nice": false, "zero": false}, "axis": null},
            "detail": {"field": "line", "type": "nominal"}
          }
        },
        {
          "data": {"name": "tlabel"},
          "mark": {"type": "text", "font": "Liberation Serif", "fontWeight": "bold", "fontSize": 22, "align": "center", "baseline": "alphabetic", "color": "black"},
          "encoding": {
            "x": {"field": "temp", "type": "quantitative", "scale": {"domain": [4, 26], "nice": false, "zero": false}, "axis": null},
            "y": {"field": "d18O", "type": "quantitative", "scale": {"domain": [-14, 2], "nice": false, "zero": false}, "axis": null},
            "text": {"field": "label", "type": "nominal"}
          }
        },
        {
          "data": {"name": "tlines"},
          "mark": {"type": "point", "opacity": 0},
          "encoding": {
            "x": {"field": "temp", "type": "quantitative", "scale": {"domain": [4, 26], "nice": false, "zero": false}, "axis": {"orient": "top", "values": [4, 8, 12, 16, 20, 24], "labels": false, "title": null}},
            "y": {"field": "d18O", "type": "quantitative", "scale": {"domain": [-14, 2], "nice": false, "zero": false}, "axis": {"orient": "right", "values": [-14, -12, -10, -8, -6, -4, -2, 0, 2], "labels": false, "title": null}}
          }
        }
      ]
    },
    {
      "width": 490,
      "height": 294,
      "resolve": {"axis": {"x": "independent", "y": "independent"}},
      "layer": [
        {
          "data": {"name": "precip"},
          "mark": {"type": "point", "filled": false, "stroke": "black", "strokeWidth": 1, "size": 64, "opacity": 1},
          "encoding": {
            "x": {"field": "precip", "type": "quantitative", "scale": {"domain": [0, 200], "nice": false, "zero": false}, "axis": {"values": [0, 50, 100, 150, 200], "title": "Monthly precipitation (mm/month)"}},
            "y": {"field": "d18O", "type": "quantitative", "scale": {"domain": [-14, 2], "nice": false, "zero": false}, "axis": {"values": [-14, -12, -10, -8, -6, -4, -2, 0, 2], "title": "δ¹⁸O (‰ / SMOW)", "titlePadding": 6}},
            "shape": {"field": "series", "type": "nominal", "scale": {"domain": ["Modern", "175K", "LGM"], "range": ["M-0.9,0H0.9M0,-0.9V0.9", "M0,-0.75L0.75,0L0,0.75L-0.75,0Z", "M-0.8,-0.8H0.8V0.8H-0.8Z"]}, "legend": {"title": null, "legendX": 372}}
          }
        },
        {
          "data": {"name": "plines"},
          "mark": {"type": "line", "stroke": "black", "strokeWidth": 1.3, "strokeDash": [2, 2.5]},
          "encoding": {
            "x": {"field": "precip", "type": "quantitative", "scale": {"domain": [0, 200], "nice": false, "zero": false}, "axis": null},
            "y": {"field": "d18O", "type": "quantitative", "scale": {"domain": [-14, 2], "nice": false, "zero": false}, "axis": null},
            "detail": {"field": "line", "type": "nominal"}
          }
        },
        {
          "data": {"name": "plabel"},
          "mark": {"type": "text", "font": "Liberation Serif", "fontWeight": "bold", "fontSize": 22, "align": "center", "baseline": "alphabetic", "color": "black"},
          "encoding": {
            "x": {"field": "precip", "type": "quantitative", "scale": {"domain": [0, 200], "nice": false, "zero": false}, "axis": null},
            "y": {"field": "d18O", "type": "quantitative", "scale": {"domain": [-14, 2], "nice": false, "zero": false}, "axis": null},
            "text": {"field": "label", "type": "nominal"}
          }
        },
        {
          "data": {"name": "plines"},
          "mark": {"type": "point", "opacity": 0},
          "encoding": {
            "x": {"field": "precip", "type": "quantitative", "scale": {"domain": [0, 200], "nice": false, "zero": false}, "axis": {"orient": "top", "values": [0, 50, 100, 150, 200], "labels": false, "title": null}},
            "y": {"field": "d18O", "type": "quantitative", "scale": {"domain": [-14, 2], "nice": false, "zero": false}, "axis": {"orient": "right", "values": [-14, -12, -10, -8, -6, -4, -2, 0, 2], "labels": false, "title": null}}
          }
        }
      ]
    }
  ],
  "resolve": {"scale": {"x": "independent", "y": "independent", "shape": "independent"}, "legend": {"shape": "independent"}}
}
